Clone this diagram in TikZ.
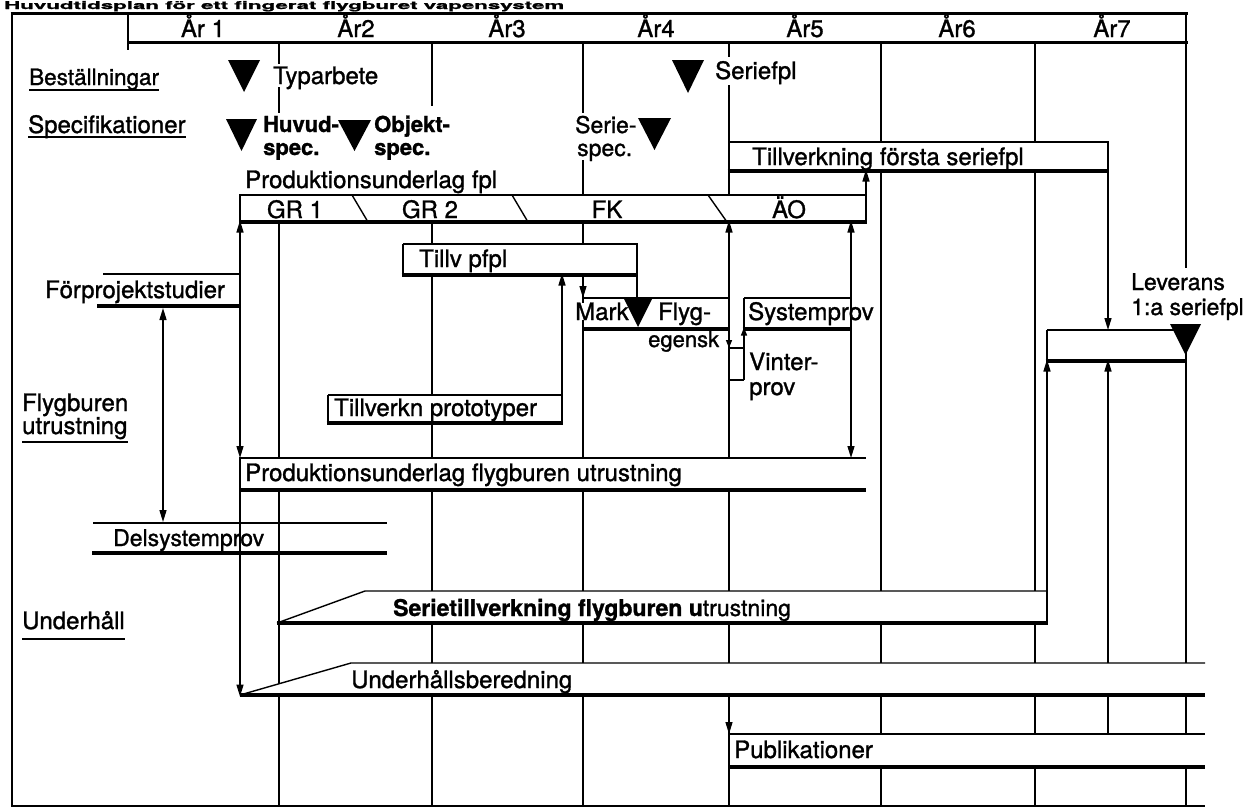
\documentclass[tikz,border=0pt]{standalone}
\usepackage{graphicx}
\usepackage{fontspec}
\setmainfont{TeX Gyre Heros}[FakeBold=1.2]
\usetikzlibrary{arrows.meta}
\newcommand\sbx[1]{%
  \draw[ln] (#1.north west) -- (#1.north east) -- (#1.south east);
  \draw[md] (#1.north west) -- (#1.south west);
  \draw[hv] ([xshift=-1.3pt]#1.south west) -- ([xshift=0.7pt]#1.south east);}
\begin{document}
\begin{tikzpicture}[x=1pt,y=-1pt,
  ln/.style={line width=1.4pt},
  md/.style={line width=2.6pt},
  hv/.style={line width=3.6pt},
  arr/.style={ln,-{Triangle[length=12pt,width=7pt]}},
  arrs/.style={ln,-{Triangle[length=8pt,width=6pt]}},
  darr/.style={ln,{Triangle[length=12pt,width=7pt]}-{Triangle[length=12pt,width=7pt]}},
  area/.style={anchor=north west,fill=white,inner sep=0pt,outer sep=0pt},
  lbl/.style={font=\fontsize{24}{28}\selectfont,inner sep=0pt,anchor=base west},
  lbls/.style={lbl,font=\fontsize{22}{26}\selectfont},
  lblm/.style={lbl,font=\fontsize{23}{27}\selectfont},
  lblb/.style={lbl,font=\bfseries\fontsize{22}{26}\selectfont},
  yr/.style={font=\fontsize{24}{28}\selectfont,inner sep=0pt,anchor=base},
  mk/.style={fill=black}
]
\fill[white] (0,0) rectangle (1245,809);
\useasboundingbox (0,0) rectangle (1245,809);

% title (squeezed into the strip above the frame)
\node[anchor=base west,inner sep=0pt] (title) at (4,9) {\resizebox{560pt}{8pt}{\bfseries Huvudtidsplan för ett fingerat flygburet vapensystem}};

% frame and header
\draw[line width=3pt] (10.6,13) -- (1187.5,13);
\draw[line width=3pt] (128,42) -- (1187.5,42);
\draw[ln] (128,13) -- (128,50);
\draw[ln] (12,13) -- (12,806) -- (1205,806);

\node[yr] (y1) at (203,37) {År 1};
\node[yr] (y2) at (356,37) {År2};
\node[yr] (y3) at (507,37) {År3};
\node[yr] (y4) at (656,37) {År4};
\node[yr] (y5) at (805,37) {År5};
\node[yr] (y6) at (957,37) {År6};
\node[yr] (y7) at (1112,37) {År7};

% year lines
\foreach \x/\a/\b in {279/42/64, 279/87/113, 432/42/106, 583/42/113, 583/160/195,
                      729/42/57, 729/85/142, 729/172/195}
  \draw[ln] (\x,\a) -- (\x,\b);
\foreach \x in {279,432,583,729}
  \draw[ln] (\x,222) -- (\x,806);
\draw[ln] (881,42) -- (881,806);
\draw[ln] (1035,42) -- (1035,806);
\draw[ln] (1186,13) -- (1186,268);
\draw[ln] (1186,350) -- (1186,806);

% Produktionsunderlag fpl bar
\node[area,minimum width=626pt,minimum height=27pt] (pfpl) at (240,195) {};
\draw[ln] (pfpl.south west) -- (pfpl.north west) -- (pfpl.north east);
\draw[md] (pfpl.north east) -- (pfpl.south east);
\draw[hv] ([xshift=-0.7pt]pfpl.south west) -- ([xshift=1.3pt]pfpl.south east);
\draw[ln] (352,195) -- (368,222) (512,195) -- (528,222) (708,195) -- (727,222);

% boxes
\node[area,minimum width=379pt,minimum height=29pt] (tfs) at (729,142) {};
\sbx{tfs}
\node[area,minimum width=234pt,minimum height=31pt] (tpfpl) at (403,244) {};
\sbx{tpfpl}
\node[area,minimum width=146pt,minimum height=31pt] (mark) at (583,298) {};
\draw[ln] (mark.south west) -- (mark.north west) -- (mark.north east) -- (mark.south east);
\draw[hv] (mark.south west) -- (mark.south east);
\node[area,minimum width=107pt,minimum height=31pt] (sysp) at (744,298) {};
\sbx{sysp}
\node[area,minimum width=15pt,minimum height=32pt] (vint) at (729,348) {};
\draw[ln] (vint.north west) -- (vint.north east) -- (vint.south east);
\draw[md] (vint.north west) -- (vint.south west) -- (vint.south east);
\node[area,minimum width=234pt,minimum height=28pt] (tproto) at (328,395) {};
\sbx{tproto}
\node[area,minimum width=626pt,minimum height=32pt] (pflyg) at (240,458) {};
\draw[ln] (pflyg.south west) -- (pflyg.north west) -- (pflyg.north east);
\draw[hv] (pflyg.south west) -- (pflyg.south east);
\node[area,minimum width=139pt,minimum height=31pt] (lev) at (1047,330) {};
\sbx{lev}
\node[area,minimum width=476pt,minimum height=33pt] (publ) at (729,734) {};
\draw[ln] (publ.south west) -- (publ.north west) -- (publ.north east);
\draw[hv] (publ.south west) -- (publ.south east);

% Serietillverkning bar
\coordinate (sBL) at (277,623); \coordinate (sTL) at (365,591);
\coordinate (sTR) at (1047,591); \coordinate (sBR) at (1047,623);
\fill[white] (sBL) -- (sTL) -- (sTR) -- (sBR) -- cycle;
\draw[ln] (sBL) -- (sTL) -- (sTR);
\draw[md] (sTR) -- (sBR);
\draw[hv] (sBL) -- ([xshift=1.3pt]sBR);

% Underhallsberedning bar
\coordinate (uBL) at (240,695); \coordinate (uTL) at (351,663);
\coordinate (uTR) at (1205,663); \coordinate (uBR) at (1205,695);
\fill[white] (uBL) -- (uTL) -- (uTR) -- (uBR) -- cycle;
\draw[ln] (uBL) -- (uTL) -- (uTR);
\draw[hv] (uBL) -- (uBR);

% Forprojektstudier and Delsystemprov lines
\coordinate (fTL) at (103,274); \coordinate (fTR) at (240,274);
\coordinate (fBL) at (97,306);  \coordinate (fBR) at (240,306);
\draw[md] (fTL) -- (fTR);
\draw[hv] (fBL) -- (fBR);
\coordinate (dTL) at (93,523); \coordinate (dTR) at (387,523);
\coordinate (dBL) at (92,553); \coordinate (dBR) at (387,553);
\draw[md] (dTL) -- (dTR);
\draw[hv] (dBL) -- (dBR);

% connectors
\draw[arr,shorten >=-1.5pt] (fTR) -- (pfpl.south west);
\draw[ln] (fTR) -- (fBR);
\draw[arr] (fBR) -- (pflyg.north west);
\coordinate (fA) at (163,308); \coordinate (dA) at (163,522);
\draw[darr] (fA) -- (dA);
\draw[arr,shorten >=-1.5pt] (pflyg.south west) -- (uBL);
\draw[arr,shorten >=-1.5pt] (tproto.north east) -- (tproto.north east |- tpfpl.south);
\draw[arr] (tpfpl.south -| mark.north west) -- (mark.north west);
\draw[ln] (tpfpl.south east) -- (tpfpl.south east |- mark.north);
\draw[arr,shorten >=-1.5pt] (mark.north east) -- (mark.north east |- pfpl.south);
\draw[arrs] (mark.south east) -- (vint.north west);
\draw[arrs,shorten >=-1.5pt] (vint.north east) -- (sysp.south west);
\draw[arr,shorten >=-1.5pt] (sysp.north east) -- (sysp.north east |- pfpl.south);
\draw[arr] (sysp.south east) -- (sysp.south east |- pflyg.north);
\draw[arr,shorten >=-1.5pt] (pfpl.north east) -- (pfpl.north east |- tfs.south);
\draw[arr] (tfs.south east) -- (tfs.south east |- lev.north);
\draw[arr,shorten >=-1.5pt] (tfs.south east |- uTR) -- (tfs.south east |- lev.south);
\draw[ln] (tfs.south east |- uBR) -- (tfs.south east |- publ.north);
\draw[arr,shorten >=-1.5pt] (sTR) -- (lev.south west);
\draw[arr] (uBL -| publ.north west) -- (publ.north west);

% left labels
\node[lbl,font=\fontsize{22.5}{26}\selectfont] (bst) at (29,85) {Beställningar};
\draw[ln] ([yshift=-5pt]bst.base west) -- ([yshift=-5pt]bst.base east);
\node[lbl] (spc) at (28,133) {Specifikationer};
\draw[ln] ([yshift=-4pt]spc.base west) -- ([yshift=-4pt]spc.base east);
\node[lbl] (fly1) at (22,411) {Flygburen};
\node[lbl] (fly2) at (22,434) {utrustning};
\draw[ln] ([yshift=-8pt]fly2.base west) -- ([yshift=-8pt]fly2.base east);
\node[lbl] (uh) at (22,629) {Underhåll};
\draw[ln] ([yshift=-10pt]uh.base west) -- ([yshift=-10pt]uh.base east);

% milestone labels
\node[lbl] (typ) at (273,84) {Typarbete};
\node[lblb] (huv1) at (263,132) {Huvud-};
\node[lblb] (huv2) at (263,155) {spec.};
\node[lblb] (obj1) at (374,132) {Objekt-};
\node[lblb] (obj2) at (374,155) {spec.};
\node[lblm] (ser1) at (575,133) {Serie-};
\node[lblm] (ser2) at (577,156) {spec.};
\node[lbl] (sfpl) at (715,79) {Seriefpl};

% bar texts
\node[lbl] (pfult) at (245,188) {Produktionsunderlag fpl};
\node[yr] (gr1) at (295,218) {GR 1};
\node[yr] (gr2) at (430,218) {GR 2};
\node[yr] (fk) at (607,218) {FK};
\node[yr] (ao) at (789,218) {ÄO};
\node[lbl] (tfst) at (752,165) {Tillverkning första seriefpl};
\node[lbl] (tpft) at (419,267) {Tillv pfpl};
\node[lbl] (fpt) at (45,298) {Förprojektstudier};
\node[lbl,fill=white] (markt) at (575,320) {Mark};
\node[lbl] (flyg) at (658,320) {Flyg-};
\node[lbls] (egen) at (648,347) {egensk};
\node[lbl] (syst) at (748,320) {Systemprov};
\node[lbl] (vin1) at (749,370) {Vinter-};
\node[lbl] (vin2) at (749,395) {prov};
\node[lblm] (lev1) at (1131,290) {Leverans};
\node[lblm] (lev2) at (1131,315) {1:a seriefpl};
\node[lbl] (tprt) at (334,416) {Tillverkn prototyper};
\node[lbl] (pflt) at (245,481) {Produktionsunderlag flygburen utrustning};
\node[lblm] (dst) at (113,546) {Delsystemprov};
\node[lblm] (sert) at (393,616) {{\bfseries Serietillverkning flygburen u}trustning};
\node[lbl] (uhbt) at (351,688) {Underhållsberedning};
\node[lbl] (pubt) at (734,758) {Publikationer};

% milestone triangles
\fill[mk] (228,60) -- (260,60) -- (244,92) -- cycle;
\fill[mk] (226,119) -- (257,119) -- (241.5,151) -- cycle;
\fill[mk] (338,120) -- (371,120) -- (354.5,151) -- cycle;
\fill[mk] (638,118) -- (671,118) -- (654.5,150) -- cycle;
\fill[mk] (672,60) -- (704,60) -- (688,93) -- cycle;
\fill[mk] (623,297) -- (653,297) -- (638,327) -- cycle;
\fill[mk] (1170,324) -- (1201,324) -- (1185.5,355) -- cycle;
\end{tikzpicture}
\end{document}
